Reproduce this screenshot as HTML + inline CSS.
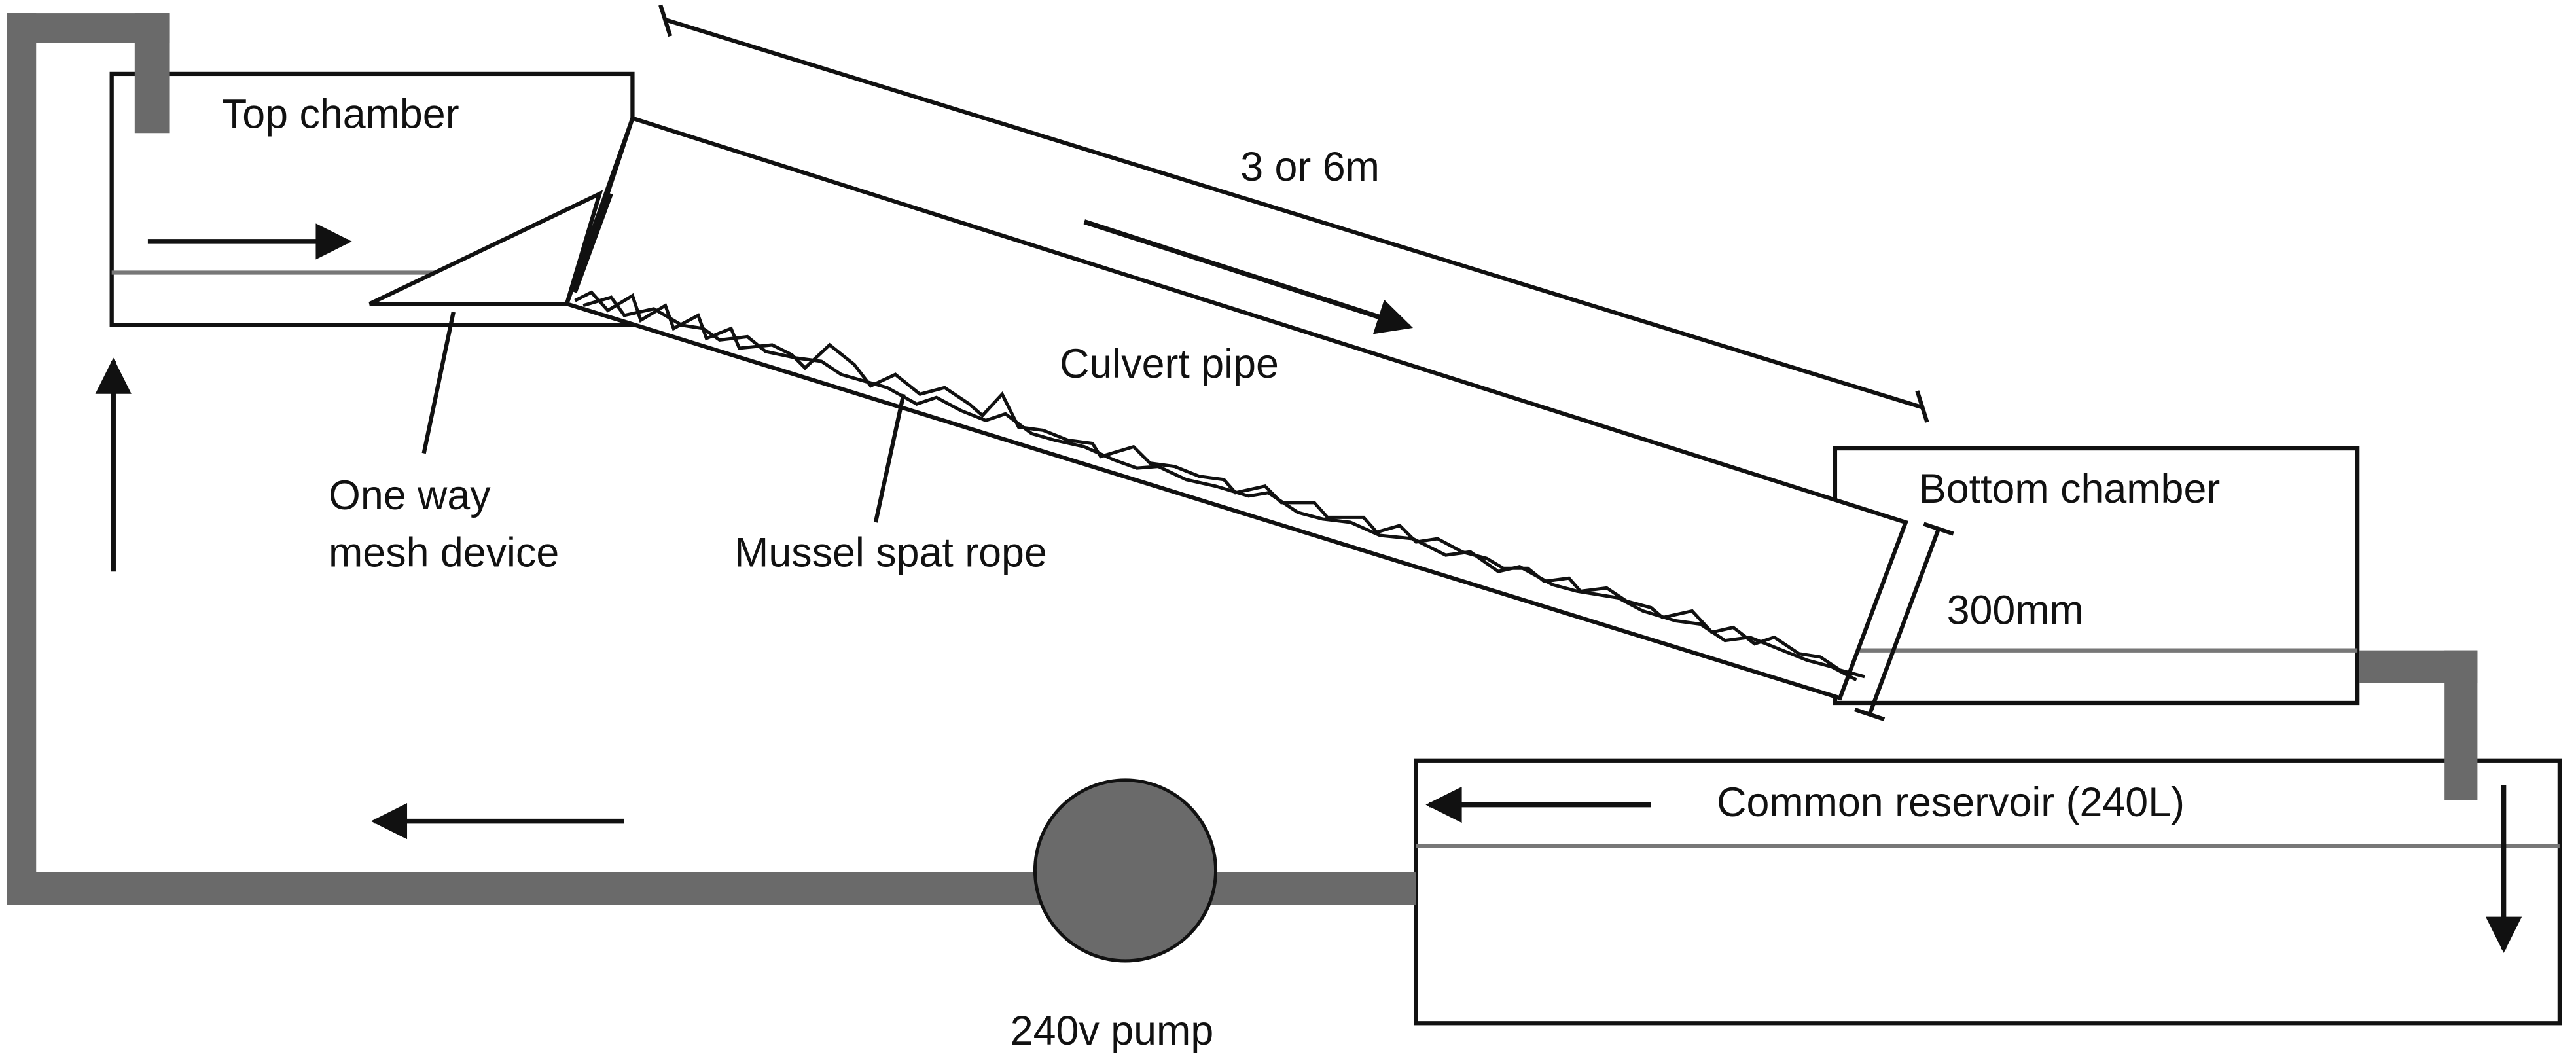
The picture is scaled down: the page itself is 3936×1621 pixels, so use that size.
<!DOCTYPE html>
<html><head><meta charset="utf-8"><style>
html,body{margin:0;padding:0;background:#fff;}
svg{display:block;}
text{font-family:"Liberation Sans",sans-serif;font-size:25px;fill:#111;}
</style></head><body>
<svg width="3936" height="1621" viewBox="0 0 1568 646" preserveAspectRatio="none" xmlns="http://www.w3.org/2000/svg">
<defs>
<marker id="ah2" viewBox="0 0 10 10" refX="9" refY="5" markerWidth="26" markerHeight="22" orient="auto" markerUnits="userSpaceOnUse"><path d="M0,0 L10,5 L0,10 z" fill="#111"/></marker>
</defs>
<!-- chambers -->
<g fill="none" stroke="#111" stroke-width="2.5">
<rect x="68" y="45" width="317" height="153" fill="#fff"/>
<rect x="1117" y="273" width="318" height="155" fill="#fff"/>
<rect x="862" y="463" width="696" height="160" fill="#fff"/>
</g>
<!-- grey pipes -->
<g fill="#6a6a6a">
<rect x="4" y="8" width="99" height="18"/>
<rect x="4" y="8" width="18" height="543"/>
<rect x="82" y="8" width="21" height="73"/>
<rect x="4" y="531" width="858" height="20"/>
<rect x="1436" y="396" width="72" height="20"/>
<rect x="1488" y="396" width="20" height="91"/>
</g>
<circle cx="685" cy="530" r="55" fill="#6a6a6a" stroke="#111" stroke-width="2"/>
<g stroke="#777" stroke-width="2.5">
<line x1="68" y1="166" x2="350" y2="166"/>
<line x1="1130" y1="396" x2="1435" y2="396"/>
<line x1="862" y1="515" x2="1558" y2="515"/>
</g>
<!-- culvert -->
<g fill="none" stroke="#111" stroke-width="2.5">
<polygon points="385,72 1160,318 1120,425 345,185" fill="#fff"/>
<polygon points="225,185 365,118 345,185" fill="#fff"/>
<polyline points="385,72 350,178 372,118"/>
<line x1="405" y1="12" x2="1170" y2="248"/>
<line x1="402" y1="3" x2="408" y2="22"/>
<line x1="1167" y1="238" x2="1173" y2="257"/>
<line x1="1180" y1="322" x2="1138" y2="435"/>
<line x1="1171" y1="319" x2="1189" y2="325"/>
<line x1="1129" y1="432" x2="1147" y2="438"/>
<line x1="258" y1="276" x2="276" y2="190"/>
<line x1="533" y1="318" x2="550" y2="240"/>
</g>
<!-- rope -->
<g fill="none" stroke="#111" stroke-width="2">
<polyline points="350,183 360,178 370,189 385,180 390,195 405,186 410,200 425,192 430,206 445,200 450,212 470,210 482,216 490,224 505,210 520,222 530,235 545,228 560,240 575,236 590,246 598,253 610,240 620,260 635,262 650,268 665,270 670,278 690,272 700,282 715,284 730,290 745,292 752,300 770,296 780,306 800,306 808,315 830,315 838,324 852,320 862,330 875,328 890,336 905,340 915,346 930,346 940,354 955,352 962,360 978,358 990,366 1005,370 1012,376 1030,372 1042,385 1055,382 1068,392 1080,388 1095,398 1108,400 1120,408 1135,412"/>
<polyline points="355,186 372,181 380,192 398,188 415,198 428,200 438,207 455,205 466,214 485,218 500,220 512,228 526,232 540,236 558,246 570,242 585,250 600,256 612,252 628,264 642,268 660,272 678,280 692,285 705,284 722,292 740,296 760,302 772,300 790,312 805,316 822,318 840,326 860,328 880,338 895,336 912,348 925,345 945,356 960,360 985,364 1000,372 1020,378 1035,380 1050,390 1065,388 1085,396 1100,402 1115,406 1130,414"/>
</g>
<!-- arrows -->
<g stroke="#111" stroke-width="3" fill="none">
<line x1="90" y1="147" x2="212" y2="147" marker-end="url(#ah2)"/>
<line x1="660" y1="135" x2="858" y2="199" marker-end="url(#ah2)"/>
<line x1="1005" y1="490" x2="870" y2="490" marker-end="url(#ah2)"/>
<line x1="380" y1="500" x2="228" y2="500" marker-end="url(#ah2)"/>
<line x1="69" y1="348" x2="69" y2="220" marker-end="url(#ah2)"/>
<line x1="1524" y1="478" x2="1524" y2="578" marker-end="url(#ah2)"/>
</g>
<text x="135" y="78">Top chamber</text>
<text x="755" y="110">3 or 6m</text>
<text x="645" y="230">Culvert pipe</text>
<text x="200" y="310">One way</text>
<text x="200" y="345">mesh device</text>
<text x="447" y="345">Mussel spat rope</text>
<text x="1168" y="306">Bottom chamber</text>
<text x="1185" y="380">300mm</text>
<text x="1045" y="497">Common reservoir (240L)</text>
<text x="615" y="636">240v pump</text>
</svg>
</body></html>
